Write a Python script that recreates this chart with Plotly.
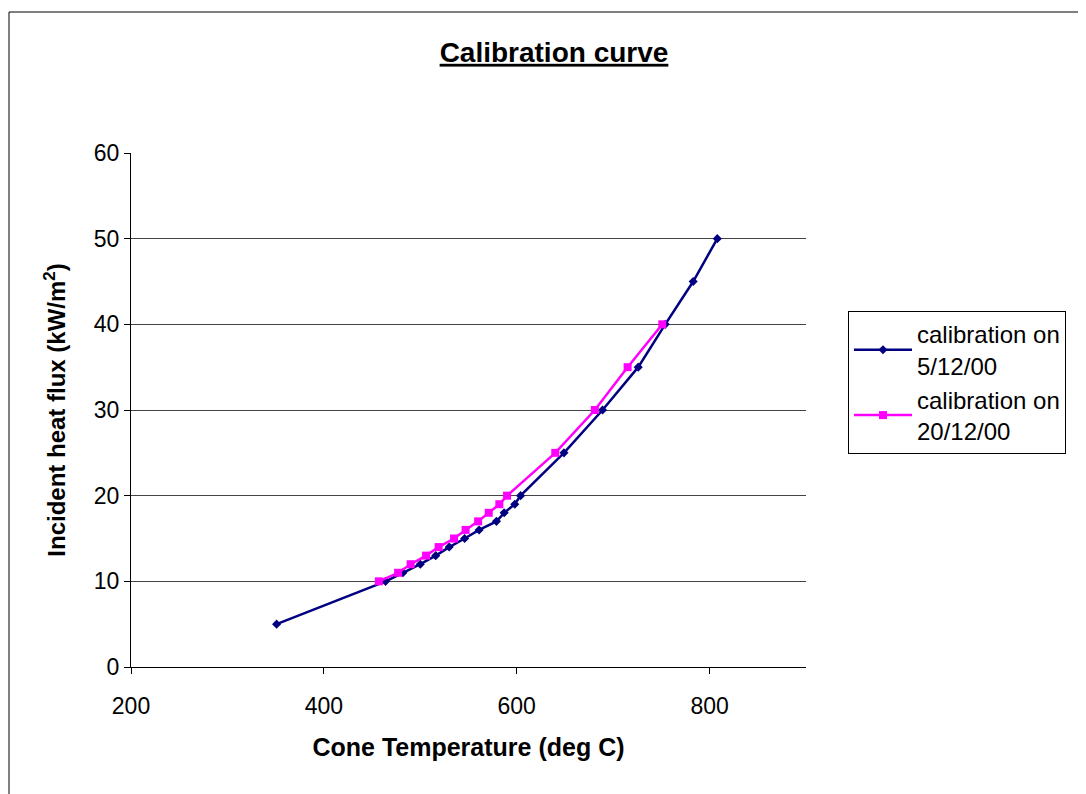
import plotly.graph_objects as go

# Data
temp_5dec = [351, 464, 482, 500, 516, 530, 546, 561, 579, 587, 598, 604, 649, 689, 726, 754, 783, 808]
flux_5dec = [5, 10, 11, 12, 13, 14, 15, 16, 17, 18, 19, 20, 25, 30, 35, 40, 45, 50]
temp_20dec = [457, 477, 490, 506, 519, 535, 547, 560, 571, 582, 590, 640, 681, 715, 751]
flux_20dec = [10, 11, 12, 13, 14, 15, 16, 17, 18, 19, 20, 25, 30, 35, 40]

x_ticks = [200, 400, 600, 800]
y_ticks = [0, 10, 20, 30, 40, 50, 60]

O = 8  # page body margin
W, H = 1086 - O, 794 - O
L, T = 131 - O, 153 - O
R = W - (806 - O)
B = H - (667 - O)
pw, ph = W - L - R, H - T - B

def px(xr):
    return (xr - O - L) / pw

def py(yr):
    return (H - B - (yr - O)) / ph

FONT = "Liberation Sans, Arial, sans-serif"

fig = go.Figure()
fig.add_trace(go.Scatter(
    x=temp_5dec, y=flux_5dec, mode="lines+markers",
    name="calibration on<br>5/12/00",
    line=dict(color="#000080", width=2.5),
    marker=dict(symbol="diamond", size=7, color="#000080"),
))
fig.add_trace(go.Scatter(
    x=temp_20dec, y=flux_20dec, mode="lines+markers",
    name="calibration on<br>20/12/00",
    line=dict(color="#FF00FF", width=2.5),
    marker=dict(symbol="square", size=8, color="#FF00FF"),
))

fig.update_layout(
    width=W, height=H,
    margin=dict(l=L, r=R, t=T, b=B, autoexpand=False),
    paper_bgcolor="white", plot_bgcolor="white",
    font=dict(family=FONT, color="black", size=23),
    title=dict(text="<b><u>Calibration curve</u></b>", xref="container",
               x=(554 - O) / W, xanchor="center",
               yref="container", y=1 - (52 - O) / H, yanchor="middle",
               font=dict(size=28, family=FONT)),
    showlegend=True,
    legend=dict(x=px(848), xanchor="left", y=py(311), yanchor="top",
                bordercolor="black", borderwidth=1, bgcolor="white",
                font=dict(size=24, family=FONT), tracegroupgap=6,
                itemwidth=58),
    xaxis=dict(range=[200, 900], tickvals=x_ticks, showgrid=False,
               showline=True, linecolor="black", linewidth=1,
               ticks="outside", ticklen=6, tickcolor="black",
               tickfont=dict(size=23), zeroline=False, ticklabelstandoff=12,
               title=dict(text="<b>Cone Temperature (deg C)</b>", standoff=20,
                          font=dict(size=25))),
    yaxis=dict(range=[0, 60], tickvals=y_ticks, showgrid=True,
               gridcolor="#444444", gridwidth=1,
               showline=True, linecolor="black", linewidth=1,
               ticks="outside", ticklen=6, tickcolor="black",
               tickfont=dict(size=23), zeroline=False,
               title=dict(text="<b>Incident heat flux (kW/m<sup>2</sup>)</b>", standoff=21,
                          font=dict(size=24))),
    shapes=[
        dict(type="line", xref="paper", yref="paper",
             x0=px(9), x1=px(9), y0=py(12), y1=py(820),
             line=dict(color="black", width=1)),
        dict(type="line", xref="paper", yref="paper",
             x0=px(9), x1=px(1110), y0=py(12), y1=py(12),
             line=dict(color="black", width=1)),
    ],
)

fig.write_html("out.html")
